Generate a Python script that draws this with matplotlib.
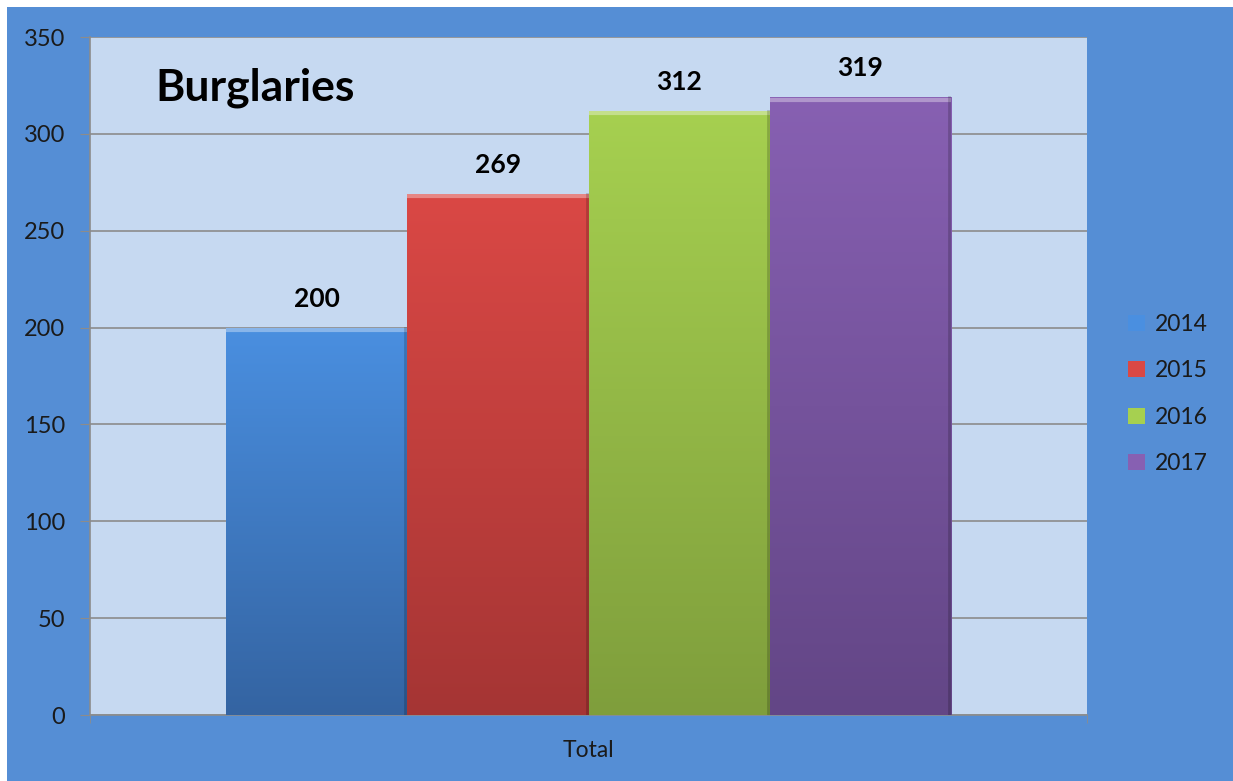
import matplotlib
matplotlib.use('Agg')
import matplotlib.pyplot as plt
import matplotlib.colors as mcolors
from matplotlib.patches import Rectangle
import numpy as np

plt.rcParams['font.family'] = ['Lato', 'DejaVu Sans']

# data
category = 'Total'
years = ['2014', '2015', '2016', '2017']
values = [200, 269, 312, 319]
top_colors = ['#4A8FE0', '#DA4845', '#A6D050', '#8760B2']
bot_colors = ['#3464A2', '#A53534', '#7F9E3C', '#634686']
yticks = [0, 50, 100, 150, 200, 250, 300, 350]

fig = plt.figure(figsize=(12.33, 7.81), dpi=100)
fig.patch.set_facecolor('white')
# blue chart background with thin white margin on top/left
fig.patches.append(Rectangle((7/1233, 0), 1, 1 - 7/781, transform=fig.transFigure,
                             facecolor='#558ED5', edgecolor='none', zorder=-10))

ax = fig.add_axes([90/1233, 1 - 715/781, 997/1233, 678/781])
ax.set_facecolor('#C6D9F1')
ax.set_xlim(-0.5, 0.5)
ax.set_ylim(0, 350)

w = 0.1816
for i, (yr, v) in enumerate(zip(years, values)):
    x = (i - 1.5) * w
    bar = ax.bar(x, v, width=w, color=top_colors[i], edgecolor='none',
                 label=yr, zorder=3)[0]
    # vertical gradient inside bar
    c1 = np.array(mcolors.to_rgb(top_colors[i]))
    c2 = np.array(mcolors.to_rgb(bot_colors[i]))
    t = np.linspace(0, 1, 256)[:, None]
    grad = (c1 * (1 - t) + c2 * t)[:, None, :]
    im = ax.imshow(grad, extent=[x - w/2, x + w/2, 0, v], aspect='auto',
                   origin='upper', zorder=3.5)
    im.set_clip_path(bar)
    # bevel edges
    hl = ax.plot([x - w/2, x + w/2], [v - 1.3, v - 1.3], color='white', alpha=0.35,
                 lw=3, zorder=4, solid_capstyle='butt')[0]
    hl.set_clip_path(bar)
    ax.plot([x + w/2 - 0.002, x + w/2 - 0.002], [0, v], color='black', alpha=0.18,
            lw=2, zorder=4)
    ax.annotate(str(v), (x, v), xytext=(0, 12), textcoords='offset points',
                ha='center', va='bottom', fontsize=19, fontweight='bold',
                color='black', zorder=5)

ax.set_yticks(yticks)
ax.set_xticks([0])
ax.set_xticklabels([category])
ax.set_xticks([-0.5, 0.5], minor=True)
ax.yaxis.grid(True, color='#8C8C8C', lw=1.2)
ax.set_axisbelow(True)
for s in ['top', 'right']:
    ax.spines[s].set_visible(False)
for s in ['left', 'bottom']:
    ax.spines[s].set_color('#8C8C8C')
    ax.spines[s].set_linewidth(1.2)
ax.tick_params(axis='y', length=7, color='#8C8C8C', labelsize=17,
               labelcolor='#1A1A1A', pad=11)
ax.tick_params(axis='x', which='major', length=0, labelsize=16.5,
               labelcolor='#1A1A1A', pad=18)
ax.tick_params(axis='x', which='minor', length=6, color='#8C8C8C')

ax.text(0.066, 0.925, 'Burglaries', transform=ax.transAxes, fontsize=32,
        fontweight='bold', ha='left', va='center', color='black', zorder=5)

leg = ax.legend(loc='center left', bbox_to_anchor=(1117/1233, 1 - 394/781),
                bbox_transform=fig.transFigure, frameon=False, fontsize=16.5,
                handlelength=0.7, handleheight=0.7, handletextpad=0.45,
                labelspacing=1.1, borderpad=0)
for txt in leg.get_texts():
    txt.set_color('#1A1A1A')

fig.savefig('out.png', dpi=100)
